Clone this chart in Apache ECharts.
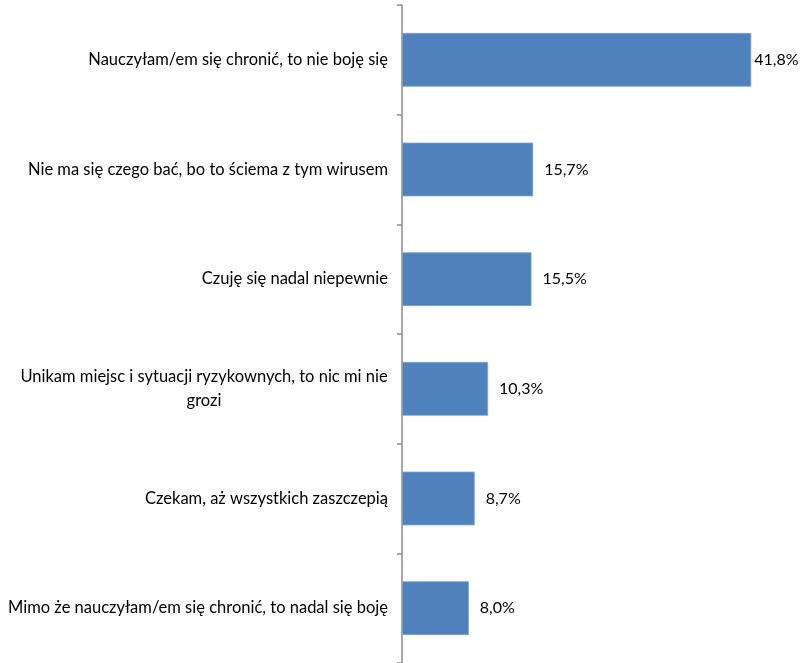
<!DOCTYPE html>
<html>
<head>
<meta charset="utf-8">
<script src="https://cdn.jsdelivr.net/npm/echarts@6/dist/echarts.min.js"></script>
<style>html,body{margin:0;padding:0;background:#fff;}#c{width:803px;height:663px;}</style>
</head>
<body>
<div id="c"></div>
<script>
const categories = [
  "Nauczyłam/em się chronić, to nie boję się",
  "Nie ma się czego bać, bo to ściema z tym wirusem",
  "Czuję się nadal niepewnie",
  "Unikam miejsc i sytuacji ryzykownych, to nic mi nie\ngrozi",
  "Czekam, aż wszystkich zaszczepią",
  "Mimo że nauczyłam/em się chronić, to nadal się boję"
];
const values = [41.8, 15.7, 15.5, 10.3, 8.7, 8.0];

const FONT = 'Lato, "Open Sans", sans-serif';
const LFS = 16.5;
const measureCtx = document.createElement('canvas').getContext('2d');
measureCtx.font = LFS + 'px ' + FONT;
function textW(s) { return Math.ceil(measureCtx.measureText(s).width); }

const chart = echarts.init(document.getElementById('c'), null, {renderer: 'canvas'});
chart.setOption({
  animation: false,
  backgroundColor: '#fff',
  grid: {left: 402, top: 5, width: 376, height: 660, containLabel: false},
  xAxis: {
    type: 'value', min: 0, max: 45, show: false
  },
  yAxis: {
    type: 'category',
    inverse: true,
    data: categories,
    axisLine: {show: true, lineStyle: {color: '#8c8c8c', width: 1.5}},
    axisTick: {show: true, length: 5, lineStyle: {color: '#8c8c8c', width: 1.5}},
    splitLine: {show: false},
    axisLabel: {
      margin: 14,
      color: '#000',
      fontFamily: FONT,
      fontSize: LFS,
      lineHeight: 24,
      formatter: function (v) {
        const lines = v.split('\n');
        if (lines.length === 1) return v;
        const w = Math.max.apply(null, lines.map(textW));
        return lines.map(s => '{c|' + s + '}').join('\n').replace(/\{c\|/g, '{c|') + '';
      },
      rich: {c: {align: 'center', width: 0, fontFamily: FONT, fontSize: LFS, lineHeight: 24, color: '#000'}}
    }
  },
  series: [{
    type: 'bar',
    data: values.map((v, i) => ({
      value: v,
      label: {distance: i === 0 ? 3 : 11}
    })),
    barWidth: '49%',
    itemStyle: {color: '#4f81bd', borderColor: '#7fa3d1', borderWidth: 0.8},
    label: {
      show: true,
      position: 'right',
      color: '#000',
      fontFamily: FONT,
      fontSize: 16,
      formatter: p => p.value.toFixed(1).replace('.', ',') + '%'
    }
  }]
});
// set rich width for the multi-line label to the widest line so lines center
(function () {
  let w = 0;
  categories.forEach(c => { const l = c.split('\n'); if (l.length > 1) l.forEach(s => { w = Math.max(w, textW(s)); }); });
  chart.setOption({yAxis: {axisLabel: {rich: {c: {width: w}}}}});
})();
</script>
</body>
</html>
